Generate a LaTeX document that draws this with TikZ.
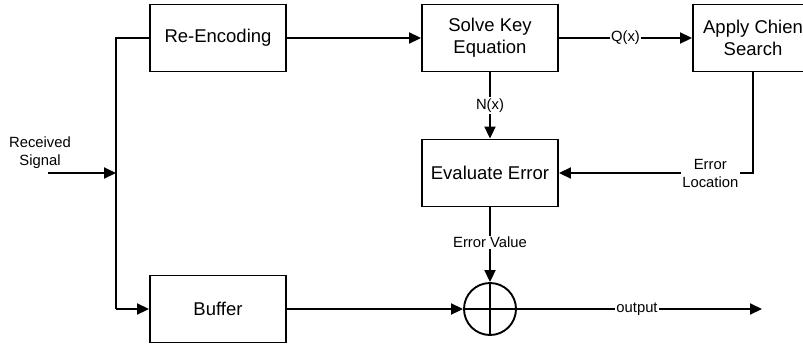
\documentclass[tikz,border=0pt]{standalone}
\usepackage{fontspec}
\setmainfont{Liberation Sans}
\usetikzlibrary{arrows.meta}
\begin{document}
\begin{tikzpicture}[x=1pt,y=-1pt,
  blk/.style={draw,line width=1.9pt,minimum width=136pt,minimum height=67pt,inner sep=0pt,align=center,
    font=\fontsize{18.5}{22}\selectfont},
  lbl/.style={fill=white,inner sep=1.5pt,align=center,font=\fontsize{14.8}{18}\selectfont},
  wire/.style={line width=1.9pt},
  arr/.style={wire,-{Triangle[length=12pt,width=11pt]}}]
\useasboundingbox (0,0) rectangle (803,346);
\clip (0,0) rectangle (803,346);
\node[blk] (re) at (218,38) {Re-Encoding};
\node[blk] (buf) at (218,309) {Buffer};
\node[blk] (skey) at (490,38) {Solve Key\\Equation};
\node[blk] (eval) at (490,173) {Evaluate Error};
\node[blk,minimum width=120pt] (chien) at (753,38) {Apply Chien\\Search};
\node[draw,circle,line width=1.9pt,minimum size=52pt,inner sep=0pt] (sum) at (490,309) {};
\draw[wire] (sum.north) -- (sum.south) (sum.west) -- (sum.east);
\coordinate (split) at (116,173);
\coordinate (in) at (48,173);
\coordinate (top) at (116,38);
\coordinate (bot) at (116,309);
\coordinate (corner) at (753,173);
\coordinate (out) at (762,309);
\node[lbl,fill=none] (rs) at (40,153) {Received\\Signal};
\draw[arr] (in) -- (split);
\draw[wire] (re.west) -- (top) -- (bot);
\draw[arr] (bot) -- (buf.west);
\draw[arr] (re.east) -- (skey.west);
\draw[arr] (skey.east) -- node[lbl,pos=0.5] {Q(x)} (chien.west);
\draw[arr] (skey.south) -- node[lbl,pos=0.5] {N(x)} (eval.north);
\draw[arr] (chien.south) -- (corner) -- node[lbl,pos=0.22] {Error\\Location} (eval.east);
\draw[arr] (eval.south) -- node[lbl,pos=0.47] {Error Value} (sum.north);
\draw[arr] (buf.east) -- (sum.west);
\draw[arr] (sum.east) -- node[lbl,pos=0.49] {output} (out);
\end{tikzpicture}
\end{document}
